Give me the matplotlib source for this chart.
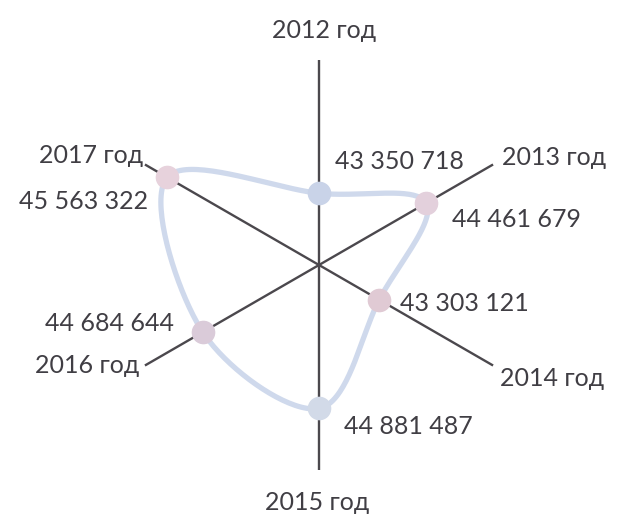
import numpy as np
import matplotlib
matplotlib.use("Agg")
import matplotlib.pyplot as plt

categories = ["2012 год", "2013 год", "2014 год", "2015 год", "2016 год", "2017 год"]
values = [43350718, 44461679, 43303121, 44881487, 44684644, 45563322]
value_labels = ["43 350 718", "44 461 679", "43 303 121", "44 881 487", "44 684 644", "45 563 322"]

R_MIN, R_MAX = 41_820_000, 46_110_000

plt.rcParams['font.family'] = ['Lato', 'DejaVu Sans']

W, H = 620, 515
CX, CY = 319, 265
SCALE = 201.0
fig = plt.figure(figsize=(W / 100, H / 100), dpi=100)
ax = fig.add_axes([0, 0, 1, 1])
ax.set_xlim(-CX / SCALE, (W - CX) / SCALE)
ax.set_ylim(-(H - CY) / SCALE, CY / SCALE)
ax.axis('off')

n = len(categories)
angles = np.pi / 2 - np.arange(n) * 2 * np.pi / n
r = (np.array(values) - R_MIN) / (R_MAX - R_MIN)
px = r * np.cos(angles)
py = r * np.sin(angles)

# spokes
for a in angles:
    ext = 1.02 if abs(np.cos(a)) < 1e-6 else 1.0
    ax.plot([0, ext * np.cos(a)], [0, ext * np.sin(a)], color="#4b484d", lw=1.7,
            zorder=1, solid_capstyle='butt')

# smooth closed curve (Catmull-Rom)
pts = np.column_stack([px, py])
curve = []
for i in range(n):
    p0, p1, p2, p3 = pts[(i - 1) % n], pts[i], pts[(i + 1) % n], pts[(i + 2) % n]
    for t in np.linspace(0, 1, 40, endpoint=False):
        t2, t3 = t * t, t * t * t
        c = 0.5 * ((2 * p1) + (-p0 + p2) * t + (2 * p0 - 5 * p1 + 4 * p2 - p3) * t2
                   + (-p0 + 3 * p1 - 3 * p2 + p3) * t3)
        curve.append(c)
curve.append(curve[0])
curve = np.array(curve)
ax.plot(curve[:, 0], curve[:, 1], color="#cfd9ec", lw=3.8, zorder=2,
        solid_joinstyle='round')

marker_colors = ["#c9d3e8", "#e3d0dc", "#e0cad4", "#d2dae8", "#dacbd9", "#e7d2dc"]
for x, y, c in zip(px, py, marker_colors):
    ax.plot(x, y, 'o', ms=16, color=c, mec=c, zorder=3)

txt = "#403e44"
fs = 18


def P(xp, yp):
    return ((xp - CX) / SCALE, (CY - yp) / SCALE)


cat_pos = [
    (P(324, 30), 'center'),
    (P(502, 157), 'left'),
    (P(500, 378), 'left'),
    (P(317, 503), 'center'),
    (P(139, 365), 'right'),
    (P(143, 155), 'right'),
]
for (pos, ha), lab in zip(cat_pos, categories):
    ax.text(pos[0], pos[1], lab, ha=ha, va='center', fontsize=fs, color=txt)

val_pos = [
    (P(335, 161), 'left'),
    (P(452, 219), 'left'),
    (P(400, 303), 'left'),
    (P(344, 427), 'left'),
    (P(174, 323), 'right'),
    (P(148, 201), 'right'),
]
for (pos, ha), lab in zip(val_pos, value_labels):
    ax.text(pos[0], pos[1], lab, ha=ha, va='center', fontsize=fs, color=txt)

fig.savefig("out.png", dpi=100, facecolor="white")
